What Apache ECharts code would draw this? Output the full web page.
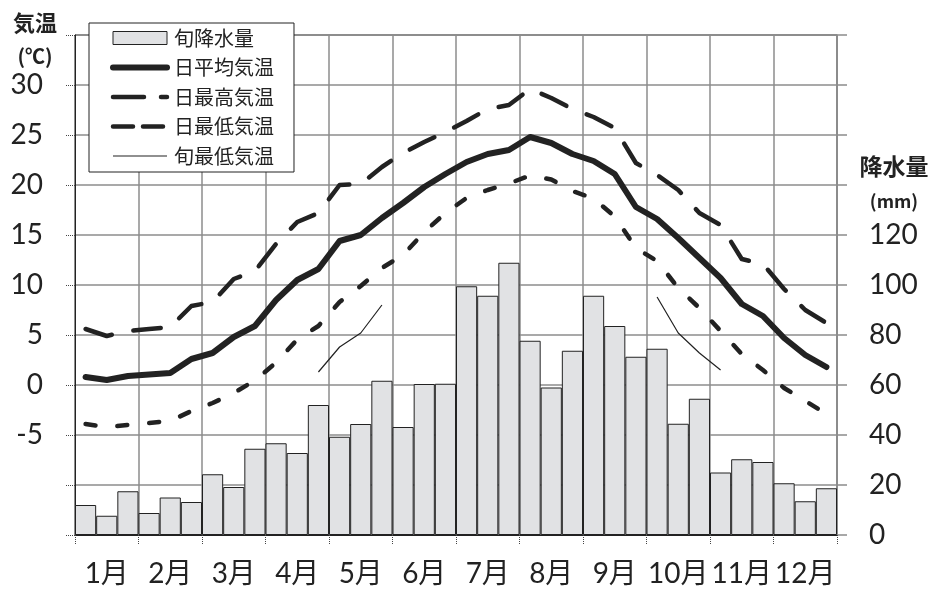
<!DOCTYPE html>
<html>
<head>
<meta charset="utf-8">
<script src="https://cdn.jsdelivr.net/npm/echarts@6/dist/echarts.min.js"></script>
<style>
html,body{margin:0;padding:0;background:#fff;}
#chart{width:935px;height:589px;}
</style>
</head>
<body>
<div id="chart"></div>
<script>
// ---- data (36 dekads: 上旬/中旬/下旬 of each month) ----
const months = ['1月','2月','3月','4月','5月','6月','7月','8月','9月','10月','11月','12月'];
const dekadParts = ['上旬','中旬','下旬'];
const categories = [];
months.forEach(m => dekadParts.forEach(d => categories.push(m + d)));

// 旬降水量 (mm)
const precip = [12.0, 7.7, 17.5, 8.8, 15.0, 13.2, 24.3, 19.2, 34.5, 36.7, 32.8, 52.0,
                39.3, 44.4, 61.7, 43.2, 60.4, 60.5, 99.5, 95.7, 108.9, 77.7, 59.0, 73.7,
                95.7, 83.6, 71.3, 74.5, 44.5, 54.5, 25.0, 30.3, 29.2, 20.7, 13.5, 18.7];
// 日平均気温 (℃)
const tAvg = [0.8, 0.5, 0.9, 1.05, 1.2, 2.6, 3.2, 4.8, 5.9, 8.5, 10.5, 11.6,
              14.4, 15.0, 16.7, 18.2, 19.8, 21.1, 22.3, 23.1, 23.5, 24.8, 24.2, 23.1,
              22.4, 21.1, 17.8, 16.6, 14.7, 12.7, 10.7, 8.1, 6.9, 4.7, 3.0, 1.8];
// 日最高気温 (℃)
const tMax = [5.6, 4.9, 5.4, 5.6, 5.8, 7.9, 8.3, 10.6, 11.4, 14.1, 16.3, 17.2,
              20.0, 20.1, 21.8, 23.2, 24.3, 25.3, 26.4, 27.6, 28.0, 29.6, 28.7, 27.6,
              26.8, 25.7, 22.2, 21.0, 19.5, 17.2, 16.0, 12.6, 12.1, 9.6, 7.5, 6.2];
// 日最低気温 (℃)
const tMin = [-3.9, -4.2, -4.0, -3.8, -3.6, -2.6, -1.8, -0.8, 0.45, 2.25, 4.55, 5.9,
              8.3, 9.9, 11.7, 13.0, 15.3, 17.2, 18.7, 19.5, 20.15, 20.95, 20.55, 19.4,
              18.65, 16.85, 13.7, 12.4, 9.7, 7.7, 5.4, 3.1, 1.5, -0.3, -1.6, -2.9];
// 旬最低気温 (℃) – only shown for some dekads
const tDekMin = [null, null, null, null, null, null, null, null, null, null, null, 1.3,
                 3.8, 5.2, 8.0, null, null, null, null, null, null, null, null, null,
                 null, null, null, 8.8, 5.2, 3.2, 1.5, null, null, null, null, null];

const legendNames = ['旬降水量','日平均気温','日最高気温','日最低気温','旬最低気温'];

const numFont = "Lato, 'Noto Sans CJK JP', sans-serif";
const cjkFont = "'Noto Sans CJK JP', Lato, sans-serif";
const ink = '#222';
const gridGray = '#8c8c8c';

const chart = echarts.init(document.getElementById('chart'), null, {renderer: 'canvas'});
chart.setOption({
  animation: false,
  backgroundColor: '#fff',
  grid: {left: 75, right: 98, top: 35, bottom: 54, show: true, borderColor: ink, borderWidth: 1, backgroundColor: 'transparent'},
  graphic: [
    {type: 'text', style: {text: '気温', x: 35, y: 23, font: "bold 22px 'Noto Sans CJK JP'", fill: ink, align: 'center', verticalAlign: 'middle'}},
    {type: 'text', style: {text: '(℃)', x: 35, y: 56, font: "bold 20px 'Noto Sans CJK JP'", fill: ink, align: 'center', verticalAlign: 'middle'}},
    {type: 'text', style: {text: '降水量', x: 894, y: 166, font: "bold 23px 'Noto Sans CJK JP'", fill: ink, align: 'center', verticalAlign: 'middle'}},
    {type: 'text', style: {text: '(mm)', x: 894, y: 201, font: "bold 18px 'Noto Sans CJK JP'", fill: ink, align: 'center', verticalAlign: 'middle'}}
  ],
  legend: {
    left: 89, top: 23, orient: 'vertical',
    padding: [5, 20, 6, 21],
    itemWidth: 54, itemHeight: 13, itemGap: 9.5,
    backgroundColor: '#fff', borderColor: ink, borderWidth: 1,
    textStyle: {fontFamily: cjkFont, fontSize: 20, color: ink, lineHeight: 20, padding: [0, 0, 0, 2]},
    selectedMode: false,
    data: [
      {name: legendNames[0], icon: 'rect', itemStyle: {color: '#e1e2e4', borderColor: ink, borderWidth: 1}},
      {name: legendNames[1], itemStyle: {opacity: 0}, lineStyle: {width: 6, type: 'solid', color: ink, cap: 'round'}},
      {name: legendNames[2], itemStyle: {opacity: 0}, lineStyle: {width: 4.5, type: [31, 17], color: ink, cap: 'round'}},
      {name: legendNames[3], itemStyle: {opacity: 0}, lineStyle: {width: 4.5, type: [20, 10], color: ink, cap: 'round'}},
      {name: legendNames[4], itemStyle: {opacity: 0}, lineStyle: {width: 1.2, type: 'solid', color: ink}}
    ]
  },
  xAxis: {
    type: 'category', data: categories, boundaryGap: true,
    axisLine: {show: true, onZero: false, lineStyle: {color: ink, width: 1}},
    axisTick: {show: true, interval: 2, length: 10, lineStyle: {color: '#444', type: 'dotted'}},
    axisLabel: {
      interval: (i) => i % 3 === 1,
      formatter: (v) => v.slice(0, v.indexOf('月') + 1),
      fontFamily: numFont, fontSize: 28, color: ink, margin: 25
    },
    splitLine: {show: true, interval: 2, lineStyle: {color: gridGray, width: 1.5}}
  },
  yAxis: [
    {
      type: 'value', min: -15, max: 35, interval: 5, position: 'left',
      axisLine: {show: true, lineStyle: {color: ink, width: 1}},
      axisTick: {show: true, length: 10, lineStyle: {color: '#444', type: 'dotted'}},
      axisLabel: {
        formatter: (v) => (v >= -5 && v <= 30) ? String(v) : '',
        fontFamily: numFont, fontSize: 28, color: ink, margin: 32
      },
      splitLine: {show: true, lineStyle: {color: gridGray, width: 1.5}}
    },
    {
      type: 'value', min: 0, max: 200, interval: 20, position: 'right',
      axisLine: {show: true, lineStyle: {color: gridGray, width: 1.5}},
      axisTick: {show: true, length: 10, lineStyle: {color: gridGray, width: 1.5}},
      axisLabel: {
        formatter: (v) => v <= 120 ? String(v) : '',
        fontFamily: numFont, fontSize: 28, color: ink, margin: 32, align: 'left'
      },
      splitLine: {show: false}
    }
  ],
  series: [
    {
      name: legendNames[0], type: 'bar', yAxisIndex: 1, data: precip,
      barWidth: '100%', barCategoryGap: '0%',
      itemStyle: {color: '#e1e2e4', borderColor: ink, borderWidth: 1},
      z: 2
    },
    {
      name: legendNames[1], type: 'line', yAxisIndex: 0, data: tAvg,
      symbol: 'none', lineStyle: {color: ink, width: 6, cap: 'round', join: 'round'}, z: 5
    },
    {
      name: legendNames[2], type: 'line', yAxisIndex: 0, data: tMax,
      symbol: 'none', lineStyle: {color: ink, width: 4.5, type: [27.5, 22], cap: 'round', join: 'round'}, z: 5
    },
    {
      name: legendNames[3], type: 'line', yAxisIndex: 0, data: tMin,
      symbol: 'none', lineStyle: {color: ink, width: 4.5, type: [10, 22], cap: 'round', join: 'round'}, z: 5
    },
    {
      name: legendNames[4], type: 'line', yAxisIndex: 0, data: tDekMin,
      symbol: 'none', connectNulls: false, lineStyle: {color: ink, width: 1.2}, z: 5
    }
  ]
});
</script>
</body>
</html>
